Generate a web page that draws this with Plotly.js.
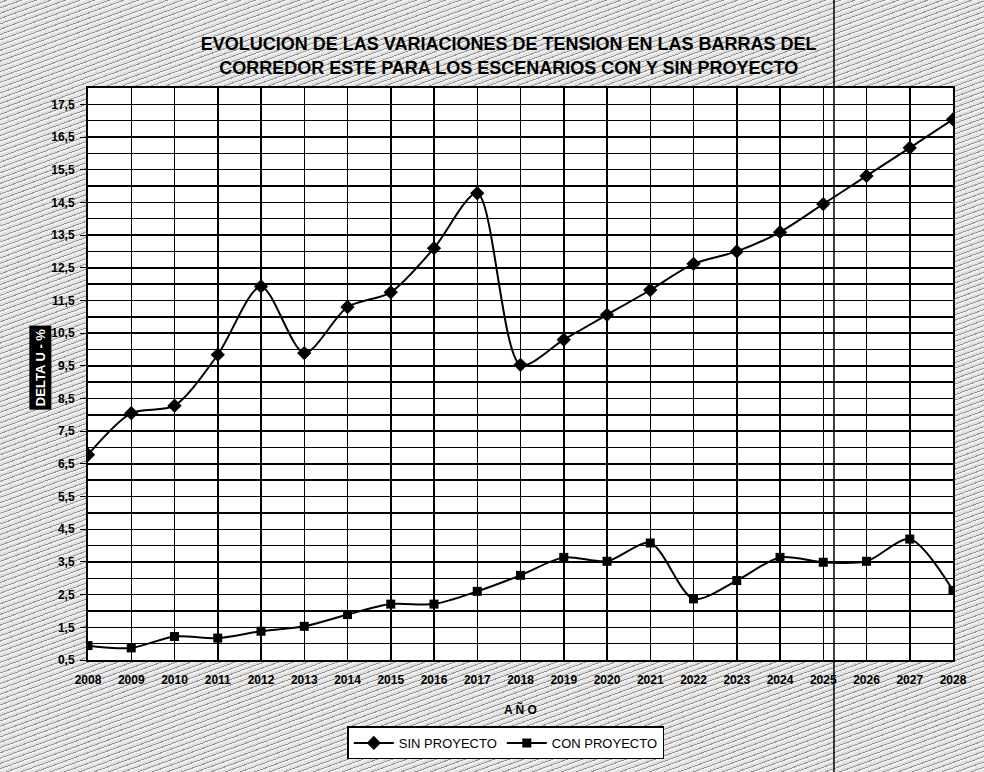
<!DOCTYPE html>
<html>
<head>
<meta charset="utf-8">
<script src="https://cdn.plot.ly/plotly-3.0.1.min.js"></script>
<style>
  html, body { margin: 0; padding: 0; }
  body {
    width: 984px; height: 772px; overflow: hidden;
    background: repeating-linear-gradient(160deg, #e0e0e0 0px, #e0e0e0 2px, #969696 2px, #969696 3px, #f0f0f0 3px, #f0f0f0 5px);
  }
  #chart { width: 984px; height: 772px; }
</style>
</head>
<body>
<div id="chart"></div>
<script>
const years = [2008, 2009, 2010, 2011, 2012, 2013, 2014, 2015, 2016, 2017, 2018,
               2019, 2020, 2021, 2022, 2023, 2024, 2025, 2026, 2027, 2028];
const sinProyecto = [6.78, 8.05, 8.28, 9.84, 11.93, 9.89, 11.30, 11.75, 13.10, 14.78, 9.53,
                     10.30, 11.06, 11.82, 12.62, 13.00, 13.59, 14.45, 15.31, 16.17, 17.04];
const conProyecto = [0.94, 0.87, 1.22, 1.17, 1.38, 1.53, 1.89, 2.21, 2.21, 2.60, 3.09,
                     3.64, 3.52, 4.08, 2.37, 2.93, 3.64, 3.49, 3.52, 4.20, 2.63];
const seriesNames = ['SIN PROYECTO', 'CON PROYECTO'];
const titleLines = ['EVOLUCION DE LAS VARIACIONES DE TENSION EN LAS BARRAS DEL',
                    'CORREDOR ESTE PARA LOS ESCENARIOS CON Y SIN PROYECTO'];
const yTitle = 'DELTA U - %';
const xTitle = 'A Ñ O';

const FONT = '"Liberation Sans", Arial, sans-serif';

const traces = [
  {
    x: years, y: sinProyecto, name: seriesNames[0], type: 'scatter', mode: 'lines+markers',
    line: { color: '#000', width: 2, shape: 'spline', smoothing: 0.8 },
    marker: { symbol: 'diamond', size: 11, color: '#000' }
  },
  {
    x: years, y: conProyecto, name: seriesNames[1], type: 'scatter', mode: 'lines+markers',
    line: { color: '#000', width: 2, shape: 'spline', smoothing: 0.8 },
    marker: { symbol: 'square', size: 9, color: '#000' }
  }
];

const layout = {
  width: 984, height: 772,
  paper_bgcolor: 'rgba(0,0,0,0)',
  plot_bgcolor: '#ffffff',
  separators: ',.',
  margin: { l: 88, r: 31, t: 88, b: 110 },
  font: { family: FONT, color: '#000', size: 11 },
  title: {
    text: '<b>' + titleLines.join('<br>') + '</b>',
    font: { family: FONT, size: 18, color: '#000' },
    x: 0.517, xanchor: 'center', xref: 'container',
    y: 0.935, yanchor: 'middle', yref: 'container'
  },
  xaxis: {
    range: [2008, 2028], dtick: 1, tick0: 2008,
    showgrid: true, gridcolor: '#000', gridwidth: 1.5,
    showline: true, mirror: true, linecolor: '#000', linewidth: 2,
    ticks: 'outside', ticklen: 8, tickcolor: 'rgba(0,0,0,0)', zeroline: false,
    tickfont: { family: FONT, size: 12, color: '#000', weight: 'bold' }
  },
  yaxis: {
    range: [0.5, 18], tick0: 0.5, dtick: 1, tickformat: '.1f',
    showgrid: true, gridcolor: '#000', gridwidth: 1.5,
    minor: { dtick: 0.5, tick0: 0, showgrid: true, gridcolor: '#000', gridwidth: 1.5 },
    showline: true, mirror: true, linecolor: '#000', linewidth: 2,
    ticks: 'outside', ticklen: 6, tickcolor: '#000', zeroline: false,
    ticklabelstandoff: 3,
    tickfont: { family: FONT, size: 12, color: '#000', weight: 'bold' }
  },
  showlegend: true,
  legend: {
    orientation: 'h', x: 0.483, xanchor: 'center', y: -0.145, yanchor: 'middle',
    bgcolor: '#ffffff', bordercolor: '#000', borderwidth: 1.5,
    font: { family: FONT, size: 13, color: '#000' },
    itemwidth: 40
  },
  annotations: [
    {
      text: '<b>' + yTitle + '</b>', xref: 'paper', yref: 'paper',
      x: -0.0555, y: 0.512, xanchor: 'center', yanchor: 'middle',
      textangle: -90, showarrow: false,
      font: { family: FONT, size: 13, color: '#ffffff' },
      bgcolor: '#000', borderpad: 3
    },
    {
      text: '<b>' + xTitle + '</b>', xref: 'paper', yref: 'paper',
      x: 0.5, y: -0.087, showarrow: false, yanchor: 'middle',
      font: { family: FONT, size: 12, color: '#000' }
    }
  ],
  shapes: [
    {
      type: 'line', xref: 'paper', yref: 'paper', layer: 'above',
      x0: 0.8624, x1: 0.8624, y0: -0.2, y1: 1.16,
      line: { color: '#000', width: 1.5 }
    }
  ]
};

Plotly.newPlot('chart', traces, layout, { displayModeBar: false, staticPlot: true });
</script>
</body>
</html>
